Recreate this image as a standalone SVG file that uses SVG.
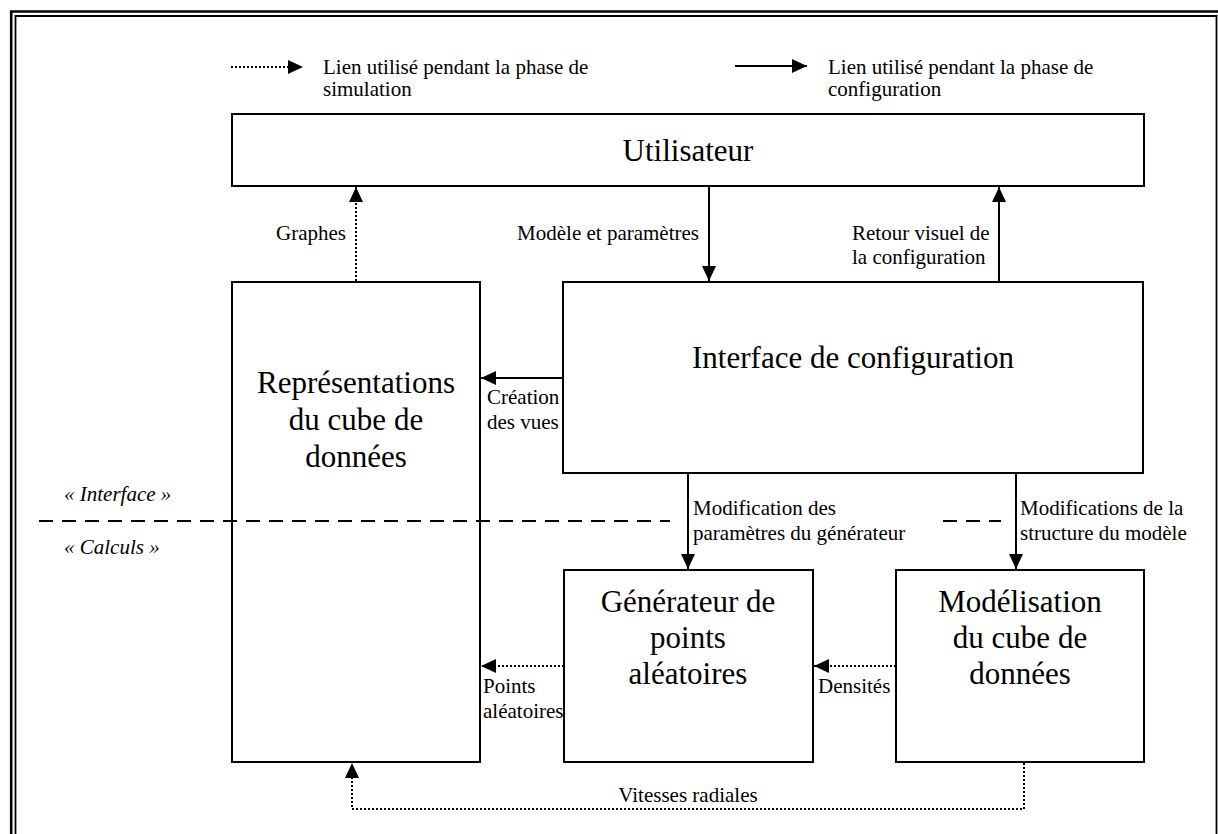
<svg xmlns="http://www.w3.org/2000/svg" width="1218" height="834" viewBox="0 0 1218 834">
<style>
.box{fill:none;stroke:#000;stroke-width:2}
.node{font-family:"Liberation Serif","Times New Roman",serif;font-size:31px;fill:#000;text-anchor:middle}
.lbl{font-family:"Liberation Serif","Times New Roman",serif;font-size:21px;fill:#000}
.it{font-style:italic}
.solid{fill:none;stroke:#000;stroke-width:2}
.dot{fill:none;stroke:#000;stroke-width:2;stroke-dasharray:2 2}
.dash{fill:none;stroke:#000;stroke-width:2;stroke-dasharray:14 9}
</style>
<defs>
<marker id="ah" markerUnits="userSpaceOnUse" markerWidth="16" markerHeight="14" refX="15" refY="7" orient="auto">
<path d="M0,0 L15,7 L0,14 Z" fill="#000"/>
</marker>
</defs>
<rect width="1218" height="834" fill="#fff"/>
<g id="frame">
<path d="M11.2,834 V11.5 H1218" fill="none" stroke="#000" stroke-width="2.6"/>
<path d="M15.5,834 V16 H1216.5 V834" fill="none" stroke="#000" stroke-width="1.8"/>
</g>
<g id="legend">
<line class="dot" x1="231" y1="67" x2="303" y2="67" marker-end="url(#ah)"/>
<text class="lbl" x="323" y="74">Lien utilisé pendant la phase de</text>
<text class="lbl" x="323" y="96">simulation</text>
<line class="solid" x1="735" y1="66" x2="807" y2="66" marker-end="url(#ah)"/>
<text class="lbl" x="828" y="74">Lien utilisé pendant la phase de</text>
<text class="lbl" x="828" y="96">configuration</text>
</g>
<g id="layers">
<line class="dash" x1="39" y1="521" x2="670" y2="521"/>
<line class="dash" x1="943" y1="521" x2="1001" y2="521"/>
<text class="lbl it" x="64" y="501">« Interface »</text>
<text class="lbl it" x="64" y="554">« Calculs »</text>
</g>
<g id="utilisateur">
<rect class="box" x="232" y="114" width="912" height="72"/>
<text class="node" x="688" y="161">Utilisateur</text>
</g>
<g id="representations">
<rect class="box" x="232" y="282" width="248" height="480"/>
<text class="node" x="356" y="393">Représentations</text>
<text class="node" x="356" y="430">du cube de</text>
<text class="node" x="356" y="467">données</text>
</g>
<g id="interface">
<rect class="box" x="563" y="282" width="580" height="191"/>
<text class="node" x="853" y="368">Interface de configuration</text>
</g>
<g id="generateur">
<rect class="box" x="564" y="570" width="249" height="192"/>
<text class="node" x="688" y="612">Générateur de</text>
<text class="node" x="688" y="648">points</text>
<text class="node" x="688" y="684">aléatoires</text>
</g>
<g id="modelisation">
<rect class="box" x="896" y="570" width="248" height="192"/>
<text class="node" x="1020" y="612">Modélisation</text>
<text class="node" x="1020" y="648">du cube de</text>
<text class="node" x="1020" y="684">données</text>
</g>
<g id="connectors">
<line class="dot" x1="356" y1="281" x2="356" y2="187" marker-end="url(#ah)"/>
<line class="solid" x1="709" y1="187" x2="709" y2="281" marker-end="url(#ah)"/>
<line class="solid" x1="999" y1="281" x2="999" y2="187" marker-end="url(#ah)"/>
<line class="solid" x1="563" y1="378" x2="481" y2="378" marker-end="url(#ah)"/>
<line class="solid" x1="688" y1="474" x2="688" y2="569" marker-end="url(#ah)"/>
<line class="solid" x1="1016" y1="474" x2="1016" y2="569" marker-end="url(#ah)"/>
<line class="dot" x1="896" y1="666" x2="814" y2="666" marker-end="url(#ah)"/>
<line class="dot" x1="564" y1="666" x2="481" y2="666" marker-end="url(#ah)"/>
<polyline class="dot" points="1024,763 1024,809 352,809 352,763" marker-end="url(#ah)"/>
</g>
<g id="labels">
<text class="lbl" x="346" y="240" text-anchor="end">Graphes</text>
<text class="lbl" x="699" y="240" text-anchor="end">Modèle et paramètres</text>
<text class="lbl" x="852" y="240">Retour visuel de</text>
<text class="lbl" x="852" y="264">la configuration</text>
<text class="lbl" x="487" y="404">Création</text>
<text class="lbl" x="487" y="429">des vues</text>
<text class="lbl" x="693" y="515">Modification des</text>
<text class="lbl" x="693" y="540">paramètres du générateur</text>
<text class="lbl" x="1020" y="515">Modifications de la</text>
<text class="lbl" x="1020" y="540">structure du modèle</text>
<text class="lbl" x="483" y="693">Points</text>
<text class="lbl" x="483" y="718">aléatoires</text>
<text class="lbl" x="818" y="693">Densités</text>
<text class="lbl" x="688" y="802" text-anchor="middle">Vitesses radiales</text>
</g>
</svg>
